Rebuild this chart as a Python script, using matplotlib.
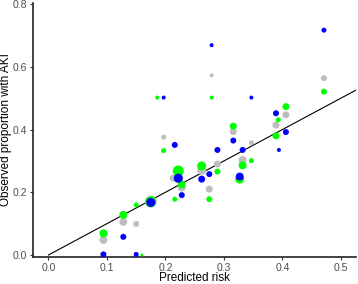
import matplotlib.pyplot as plt

plt.rcParams['font.family'] = ['Liberation Sans', 'DejaVu Sans']

# observed vs predicted risk, three groups (grey, green, blue)
# n = relative group size (drives marker area)
grey_x = [0.094, 0.128, 0.150, 0.175, 0.197, 0.213, 0.222, 0.228, 0.262, 0.275,
          0.279, 0.289, 0.316, 0.332, 0.347, 0.389, 0.406, 0.471]
grey_y = [0.048, 0.106, 0.099, 0.170, 0.376, 0.245, 0.245, 0.215, 0.270, 0.210,
          0.573, 0.290, 0.394, 0.303, 0.358, 0.414, 0.447, 0.564]
grey_n = [64, 64, 36, 144, 25, 49, 100, 64, 81, 49,
          16, 49, 49, 64, 25, 49, 49, 36]

green_x = [0.094, 0.128, 0.150, 0.160, 0.175, 0.186, 0.197, 0.216, 0.222, 0.228,
           0.262, 0.275, 0.279, 0.289, 0.316, 0.327, 0.332, 0.347, 0.389, 0.393,
           0.406, 0.471]
green_y = [0.069, 0.128, 0.160, 0.000, 0.170, 0.502, 0.333, 0.178, 0.268, 0.225,
           0.284, 0.178, 0.502, 0.266, 0.411, 0.242, 0.286, 0.301, 0.380, 0.431,
           0.473, 0.521]
green_n = [64, 64, 25, 9, 121, 16, 25, 25, 121, 64,
           81, 36, 16, 36, 49, 81, 64, 25, 49, 25,
           49, 36]

blue_x = [0.094, 0.128, 0.150, 0.175, 0.197, 0.216, 0.222, 0.228, 0.262, 0.275,
          0.279, 0.289, 0.316, 0.327, 0.332, 0.347, 0.389, 0.394, 0.406, 0.471]
blue_y = [0.002, 0.058, 0.002, 0.168, 0.502, 0.351, 0.245, 0.191, 0.242, 0.258,
          0.669, 0.335, 0.365, 0.250, 0.335, 0.502, 0.452, 0.335, 0.392, 0.717]
blue_n = [36, 36, 25, 81, 16, 36, 81, 36, 49, 36,
          16, 36, 36, 64, 36, 16, 36, 16, 36, 25]

x_ticks = [0.0, 0.1, 0.2, 0.3, 0.4, 0.5]
y_ticks = [0.0, 0.2, 0.4, 0.6, 0.8]

fig = plt.figure(figsize=(3.58, 2.84), dpi=100)
ax = fig.add_axes([0.092, 0.095, 0.902, 0.896])

area = 0.5184  # px^2 -> pt^2
ax.plot([0, 0.6], [0, 0.6], color='black', lw=0.8, zorder=1)
ax.scatter(grey_x, grey_y, s=[v * area for v in grey_n], color='#BEBEBE',
           linewidths=0, zorder=2)
ax.scatter(green_x, green_y, s=[v * area for v in green_n], color='#00FF00',
           linewidths=0, zorder=3)
ax.scatter(blue_x, blue_y, s=[v * area for v in blue_n], color='#0000FF',
           linewidths=0, zorder=4)

ax.set_xlim(-0.0265, 0.5256)
ax.set_ylim(-0.0064, 0.805)
ax.set_xticks(x_ticks)
ax.set_xticklabels([f'{t:.1f}' for t in x_ticks])
ax.set_yticks(y_ticks)
ax.set_yticklabels([f'{t:.1f}' for t in y_ticks])

for side in ['top', 'right']:
    ax.spines[side].set_visible(False)
for side in ['left', 'bottom']:
    ax.spines[side].set_linewidth(1.2)
    ax.spines[side].set_color('#222222')

ax.tick_params(axis='both', length=2.5, width=0.8, color='#333333',
               labelsize=7.5, labelcolor='#4D4D4D', pad=2)
ax.set_xlabel('Predicted risk', fontsize=8.5, va='center')
ax.xaxis.set_label_coords(0.5, -0.083)
ax.set_ylabel('Observed proportion with AKI', fontsize=8.5, va='center')
ax.yaxis.set_label_coords(-0.083, 0.5)

fig.savefig('out.png', dpi=100)
